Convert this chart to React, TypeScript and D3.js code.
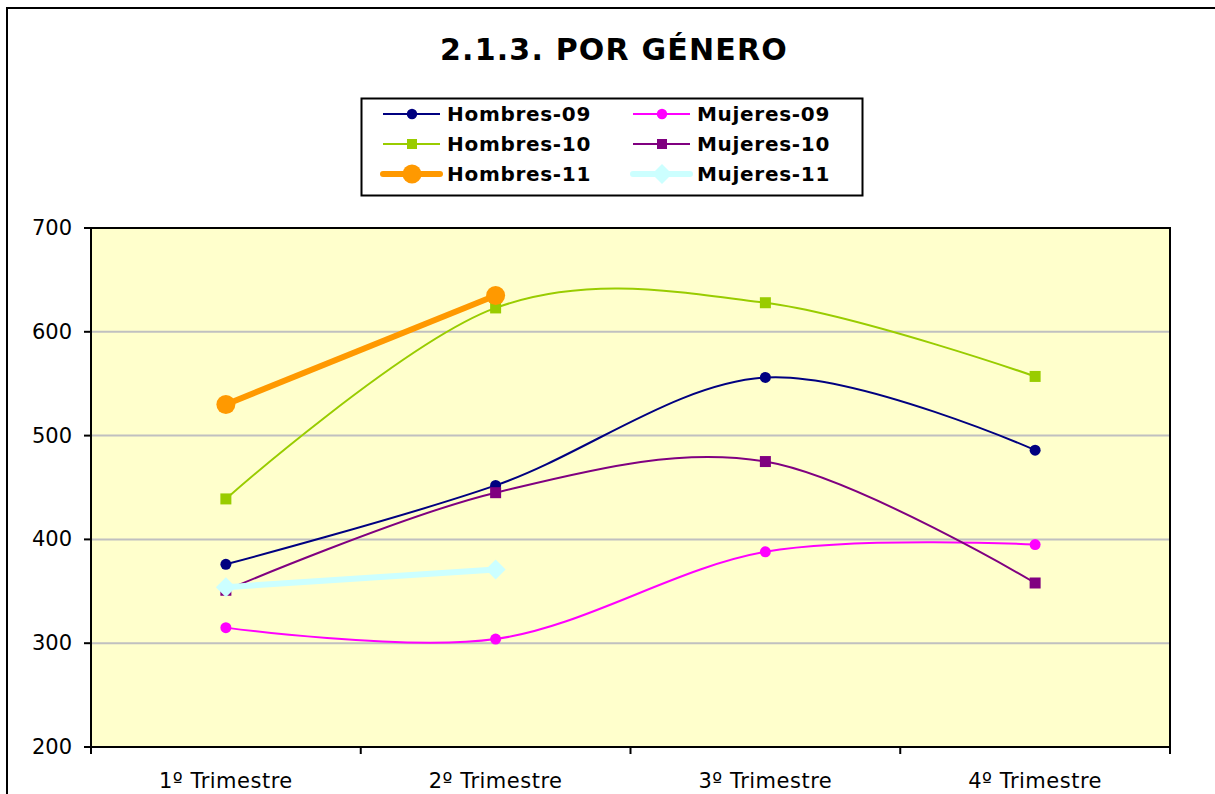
import React from "react";
import * as d3 from "d3";

const categories = ["1º Trimestre", "2º Trimestre", "3º Trimestre", "4º Trimestre"];
const yTicks = [200, 300, 400, 500, 600, 700];

const hombres09 = [376, 452, 556, 486];
const mujeres09 = [315, 304, 388, 395];
const hombres10 = [439, 623, 628, 557];
const mujeres10 = [351, 445, 475, 358];
const hombres11 = [530, 635];
const mujeres11 = [354, 371];

type Series = {
  name: string;
  values: number[];
  color: string;
  width: number;
  marker: "circle" | "square" | "diamond";
  size: number;
};

const series: Series[] = [
  { name: "Hombres-09", values: hombres09, color: "#000080", width: 2, marker: "circle", size: 5.5 },
  { name: "Mujeres-09", values: mujeres09, color: "#ff00ff", width: 2, marker: "circle", size: 5.5 },
  { name: "Hombres-10", values: hombres10, color: "#99cc00", width: 2, marker: "square", size: 5.5 },
  { name: "Mujeres-10", values: mujeres10, color: "#800080", width: 2, marker: "square", size: 5.5 },
  { name: "Hombres-11", values: hombres11, color: "#ff9900", width: 6, marker: "circle", size: 9.5 },
  { name: "Mujeres-11", values: mujeres11, color: "#ccffff", width: 6, marker: "diamond", size: 10 },
];

const legendOrder = [
  ["Hombres-09", "Mujeres-09"],
  ["Hombres-10", "Mujeres-10"],
  ["Hombres-11", "Mujeres-11"],
];

const FONT = "'DejaVu Sans', Verdana, sans-serif";

function Marker({ s, x, y }: { s: Series; x: number; y: number }) {
  if (s.marker === "circle") return <circle cx={x} cy={y} r={s.size} fill={s.color} />;
  if (s.marker === "square")
    return <rect x={x - s.size} y={y - s.size} width={s.size * 2} height={s.size * 2} fill={s.color} />;
  const r = s.size;
  return <path d={`M${x},${y - r}L${x + r},${y}L${x},${y + r}L${x - r},${y}Z`} fill={s.color} />;
}

export default function App() {
  const W = 1215, H = 794;
  const left = 91, right = 1170, top = 228, bottom = 747;
  const x = d3.scaleBand<string>().domain(categories).range([left, right]);
  const y = d3.scaleLinear().domain([200, 700]).range([bottom, top]);
  const cx = (i: number) => (x(categories[i]) as number) + x.bandwidth() / 2;
  const line = d3
    .line<number>()
    .x((_, i) => cx(i))
    .y((v) => y(v))
    .curve(d3.curveCardinal.tension(0));

  const byName = (n: string) => series.find((s) => s.name === n)!;
  const boundaries = [left, ...categories.map((c) => (x(c) as number) + x.bandwidth())];

  return (
    <svg width={W} height={H} style={{ position: "absolute", left: 0, top: 0, background: "#fff" }} fontFamily={FONT}>
      <rect x={7} y={8} width={1300} height={900} fill="#fff" stroke="#000" strokeWidth={2} />
      <text x={614} y={60} textAnchor="middle" fontSize={30} fontWeight="bold" letterSpacing={1.2}>
        2.1.3. POR GÉNERO
      </text>

      {/* legend */}
      <rect x={361.5} y={98.5} width={501} height={97} fill="#fff" stroke="#000" strokeWidth={2} />
      {legendOrder.map((row, ri) =>
        row.map((n, ci) => {
          const s = byName(n);
          const ly = 114 + ri * 30;
          const x0 = ci === 0 ? 383 : 633;
          const scaleM = { ...s, size: s.marker === "square" ? 5 : s.size * (s.width > 2 ? 1 : 0.95) };
          return (
            <g key={n}>
              <line x1={x0} x2={x0 + 57} y1={ly} y2={ly} stroke={s.color} strokeWidth={s.width} strokeLinecap={s.width > 2 ? "round" : "butt"} />
              <Marker s={scaleM} x={x0 + 29} y={ly} />
              <text x={x0 + 64} y={ly + 7} fontSize={20} fontWeight="bold" letterSpacing={0.7}>
                {n}
              </text>
            </g>
          );
        })
      )}

      {/* plot */}
      <rect x={left} y={top} width={right - left} height={bottom - top} fill="#ffffcc" />
      {yTicks.slice(1, -1).map((t) => (
        <line key={t} x1={left} x2={right} y1={y(t)} y2={y(t)} stroke="#c0c0c0" strokeWidth={2} />
      ))}
      <rect x={left} y={top} width={right - left} height={bottom - top} fill="none" stroke="#000" strokeWidth={2} />
      {yTicks.map((t) => (
        <g key={t}>
          <line x1={left - 7} x2={left} y1={y(t)} y2={y(t)} stroke="#000" strokeWidth={2} />
          <text x={72} y={y(t) + 7} textAnchor="end" fontSize={21}>
            {t}
          </text>
        </g>
      ))}
      {boundaries.map((b, i) => (
        <line key={i} x1={b} x2={b} y1={bottom} y2={bottom + 7} stroke="#000" strokeWidth={2} />
      ))}
      {categories.map((c, i) => (
        <text key={c} x={cx(i)} y={788} textAnchor="middle" fontSize={21} letterSpacing={0.5}>
          {c}
        </text>
      ))}

      {series.map((s) => (
        <g key={s.name}>
          <path d={line(s.values) || ""} fill="none" stroke={s.color} strokeWidth={s.width} strokeLinejoin="round" />
          {s.values.map((v, i) => (
            <Marker key={i} s={s} x={cx(i)} y={y(v)} />
          ))}
        </g>
      ))}
    </svg>
  );
}
